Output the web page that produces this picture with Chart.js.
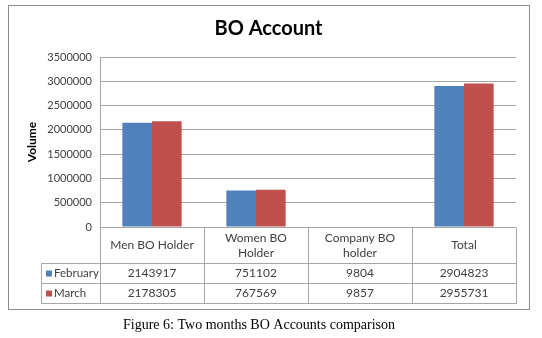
<!DOCTYPE html>
<html>
<head>
<meta charset="utf-8">
<script src="https://cdn.jsdelivr.net/npm/chart.js@4/dist/chart.umd.min.js"></script>
<style>
  body { margin: 0; background: #fff; }
  canvas { display: block; }
</style>
</head>
<body>
<canvas id="bo-chart" width="542" height="338"></canvas>
<script>
// data
const categories = [['Men BO Holder'], ['Women BO', 'Holder'], ['Company BO', 'holder'], ['Total']];
const seriesNames = ['February', 'March'];
const february = [2143917, 751102, 9804, 2904823];
const march = [2178305, 767569, 9857, 2955731];
const yMax = 3500000;
const yStep = 500000;

const blue = '#4F81BD';
const red = '#C0504D';
const lineGray = '#a6a6a6';
const textGray = '#404040';
const font = 'Lato, "Open Sans", sans-serif';

// draws the frame, title, axis title, data table and caption
const extras = {
    id: 'extras',
    afterDraw(chart) {
        const ctx = chart.ctx;
        const area = chart.chartArea;
        const x = chart.scales.x;
        const n = categories.length;
        const colW = (x.right - x.left) / n;
        ctx.save();

        // outer frame
        ctx.strokeStyle = '#8c8c8c';
        ctx.lineWidth = 1;
        ctx.strokeRect(8.5, 5.5, 521, 304);

        // title
        ctx.fillStyle = '#000';
        ctx.font = 'bold 20px ' + font;
        ctx.textAlign = 'center';
        ctx.textBaseline = 'middle';
        ctx.fillText('BO Account', 268.5, 29);

        // axis title
        ctx.save();
        ctx.translate(32, (area.top + area.bottom) / 2);
        ctx.rotate(-Math.PI / 2);
        ctx.font = 'bold 12px ' + font;
        ctx.fillText('Volume', 0, 0);
        ctx.restore();

        // data table
        const top = Math.round(area.bottom) + 0.5;
        const headH = 36;
        const rowH = 20;
        const tableLeft = 41.5;
        const right = Math.round(x.right) + 0.5;
        const bottom = top + headH + rowH * seriesNames.length;

        ctx.strokeStyle = lineGray;
        ctx.beginPath();
        for (let i = 0; i <= n; i++) {
            const lx = Math.round(x.left + colW * i) + 0.5;
            ctx.moveTo(lx, top);
            ctx.lineTo(lx, bottom);
        }
        ctx.moveTo(tableLeft, top + headH);
        ctx.lineTo(tableLeft, bottom);
        for (let r = 0; r <= seriesNames.length; r++) {
            const ly = top + headH + rowH * r;
            ctx.moveTo(tableLeft, ly);
            ctx.lineTo(right, ly);
        }
        ctx.stroke();

        ctx.fillStyle = textGray;
        ctx.font = '12px ' + font;
        ctx.textAlign = 'center';
        categories.forEach((lines, i) => {
            const cx = x.getPixelForValue(i);
            const cy = top + headH / 2;
            lines.forEach((line, k) => {
                ctx.fillText(line, cx, cy + (k - (lines.length - 1) / 2) * 15);
            });
        });

        const rows = [february, march];
        const colors = [blue, red];
        rows.forEach((vals, r) => {
            const cy = top + headH + rowH * r + rowH / 2;
            ctx.textAlign = 'center';
            ctx.fillStyle = textGray;
            ctx.font = '12px ' + font;
            vals.forEach((v, i) => {
                ctx.fillText(String(v), x.getPixelForValue(i), cy);
            });
            ctx.fillStyle = colors[r];
            ctx.fillRect(46, cy - 3, 6, 6);
            ctx.fillStyle = textGray;
            ctx.textAlign = 'left';
            ctx.font = '11.5px ' + font;
            ctx.fillText(seriesNames[r], 54, cy);
        });

        // caption
        ctx.fillStyle = '#000';
        ctx.textAlign = 'center';
        ctx.font = '14px "Liberation Serif", "Times New Roman", serif';
        ctx.fillText('Figure 6: Two months BO Accounts comparison', 259, 325);

        ctx.restore();
    }
};

new Chart(document.getElementById('bo-chart'), {
    type: 'bar',
    data: {
        labels: categories.map(c => c.join(' ')),
        datasets: [
            {
                label: seriesNames[0],
                data: february,
                backgroundColor: blue,
                barPercentage: 1,
                categoryPercentage: 0.57,
            },
            {
                label: seriesNames[1],
                data: march,
                backgroundColor: red,
                barPercentage: 1,
                categoryPercentage: 0.57,
            },
        ],
    },
    options: {
        responsive: false,
        animation: false,
        devicePixelRatio: 1,
        layout: {
            padding: { top: 57, right: 26, bottom: 111, left: 0 },
        },
        plugins: {
            legend: { display: false },
            title: { display: false },
            tooltip: { enabled: false },
        },
        scales: {
            x: {
                display: false,
            },
            y: {
                min: 0,
                max: yMax,
                afterFit(scale) {
                    scale.width = 100;
                },
                ticks: {
                    stepSize: yStep,
                    padding: 8,
                    color: textGray,
                    font: { family: font, size: 11 },
                    callback: (v) => String(v),
                },
                grid: {
                    color: lineGray,
                    drawTicks: false,
                },
                border: {
                    color: lineGray,
                },
            },
        },
    },
    plugins: [extras],
});
</script>
</body>
</html>
